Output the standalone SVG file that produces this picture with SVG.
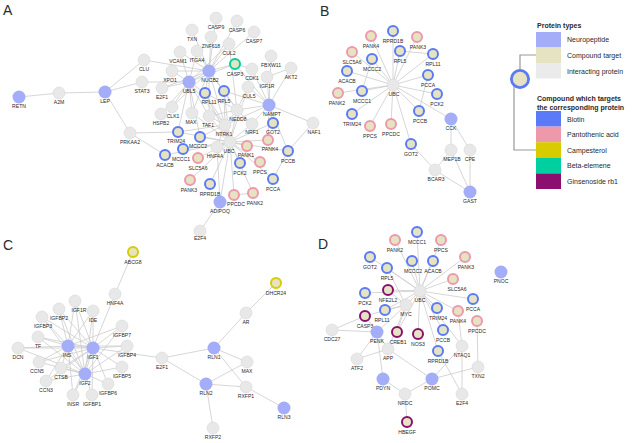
<svg xmlns="http://www.w3.org/2000/svg" width="636" height="443" viewBox="0 0 636 443">
<style>
.e{stroke:#cbcbcb;stroke-width:0.8;fill:none}
.g{fill:#e8e8e8;stroke:#d2d2d2;stroke-width:0.5}
.np{fill:#a3adf8}
.t{fill:#e6e3c3;stroke-width:2}
.bi{stroke:#5a7af7}.pa{stroke:#ee98ac}.ca{stroke:#d8cc00}.be{stroke:#00cf9f}.gi{stroke:#8a0f6e}
text{font-family:"Liberation Sans",Arial,sans-serif;fill:#2a2a2a}
.l{font-size:5.1px;text-anchor:middle}
.p{font-size:14px}
.lg{font-size:7px}
.h{font-size:7px;font-weight:bold}
</style>
<rect width="636" height="443" fill="#fff"/>
<g id="connectors">
<!-- Panel A -->
<path class="e" d="M19 97L59 93M59 93L105 92M105 92L144 60M105 92L142 82M105 92L130 133M144 60L209 71M142 82L189 82M130 133L178 132M130 133L165 155"/>
<path class="e" d="M209 71L216 18M209 71L237 21M209 71L192 30M209 71L211 37M209 71L254 32M209 71L229 44M209 71L180 52M209 71L197 51M209 71L235 64M209 71L172 71M209 71L189 82M209 71L205 93M209 71L224 91M209 71L162 88M209 71L225 125M209 71L237 110M209 71L209 116M209 71L192 113M209 71L172 107"/>
<path class="e" d="M189 82L172 71M189 82L162 88M189 82L172 107M189 82L161 114M189 82L178 132M189 82L200 137M189 82L205 93M189 82L192 113M189 82L209 116M189 82L225 125M189 82L180 52M189 82L197 51M189 82L229 44M189 82L235 64"/>
<path class="e" d="M269 105L271 56M269 105L291 68M269 105L267 77M269 105L252 69M269 105L248 87M269 105L237 110M269 105L252 124M269 105L273 123M269 105L313 123M269 105L224 91M269 105L235 64M269 105L225 125M269 105L288 151M269 105L268 140"/>
<path class="e" d="M230 142L225 125M230 142L237 110M230 142L200 137M230 142L183 149M230 142L198 158M230 142L240 163M230 142L260 162M230 142L247 146M230 142L190 180M230 142L210 184M230 142L234 195M230 142L253 193M230 142L273 179M230 142L273 123M230 142L178 132M230 142L224 91M230 142L205 93M230 142L217 147M230 142L165 155M230 142L288 151M230 142L268 140M230 142L248 87M230 142L209 116M230 142L192 113M230 142L252 124"/>
<path class="e" d="M225 125L205 93M225 125L224 91M225 125L209 116M225 125L237 110M225 125L217 147M225 125L200 137M225 125L178 132M237 110L229 44M237 110L248 87M237 110L205 93M237 110L224 91M237 110L209 116M237 110L252 124M220 202L200 231M220 202L217 147M220 202L230 142M313 123L288 151M291 68L267 77M252 69L235 64M273 179L288 151M253 193L234 195"/>
<!-- Panel B -->
<path class="e" d="M393 85L371 36M393 85L393 31M393 85L417 37M393 85L352 52M393 85L372 59M393 85L400 51M393 85L433 54M393 85L347 71M393 85L428 75M393 85L338 93M393 85L362 91M393 85L437 94M393 85L352 114M393 85L370 126M393 85L391 124M393 85L419 111M393 85L411 144M393 85L451 119M411 144L435 170M435 170L470 192M435 170L451 150M451 119L451 150M451 119L470 150M470 150L470 192M451 150L470 192M400 51L433 54M372 59L362 91M419 111L428 75"/>
<!-- Panel C -->
<path class="e" d="M133 252L115 294M115 294L93 348M162 358L93 348M162 358L214 348M162 358L206 384M214 348L246 313M246 313L276 283M214 348L247 362M214 348L246 387M206 384L247 362M206 384L246 387M206 384L213 428M246 387L284 408"/>
<path class="e" d="M68 346L75 301M68 346L93 311M68 346L59 309M68 346L42 317M68 346L38 337M68 346L18 348M68 346L39 362M68 346L61 368M68 346L73 395M68 346L122 326M68 346L127 346M68 346L93 348M68 346L85 374M68 346L46 381"/>
<path class="e" d="M93 348L75 301M93 348L93 311M93 348L59 309M93 348L42 317M93 348L122 326M93 348L127 346M93 348L122 367M93 348L108 384M93 348L92 395M93 348L73 395M93 348L38 337M93 348L18 348M93 348L39 362M93 348L46 381M93 348L61 368M93 348L85 374"/>
<path class="e" d="M85 374L75 301M85 374L59 309M85 374L42 317M85 374L122 326M85 374L127 346M85 374L122 367M85 374L108 384M85 374L92 395M85 374L73 395M85 374L46 381M85 374L39 362M85 374L61 368M85 374L18 348M85 374L38 337M85 374L93 311"/>
<!-- Panel D -->
<path class="e" d="M420 291L417 232M420 291L441 240M420 291L395 240M420 291L465 257M420 291L370 257M420 291L412 261M420 291L433 261M420 291L387 268M420 291L453 279M420 291L388 290M420 291L473 299M420 291L406 305M420 291L385 310M420 291L437 308M420 291L458 311M420 291L443 330M420 291L438 351M420 291L462 346M420 291L397 332M420 291L418 334M420 291L365 293"/>
<path class="e" d="M406 305L388 290M406 305L385 310M406 305L387 268M406 305L397 332M406 305L377 332M406 305L388 349M406 305L365 316M377 332L332 330M377 332L365 316M377 332L357 359M377 332L388 349M377 332L383 379M332 330L365 316M388 349L432 379M388 349L357 359M383 379L405 394M405 394L407 422M405 394L432 379M432 379L478 367M432 379L462 346M438 351L462 394M462 346L458 311M462 346L462 394M478 367L477 321"/>
</g>
<!-- Panel letters -->
<text class="p" x="3" y="15">A</text>
<text class="p" x="320" y="16">B</text>
<text class="p" x="3" y="250">C</text>
<text class="p" x="318" y="249">D</text>
<!-- Panel A nodes -->
<g id="A-RETN"><circle class="np" cx="19" cy="97" r="6.5"/><text class="l" x="19" y="108">RETN</text></g>
<g id="A-A2M"><circle class="g" cx="59" cy="93" r="6"/><text class="l" x="59" y="104">A2M</text></g>
<g id="A-LEP"><circle class="np" cx="105" cy="92" r="6.5"/><text class="l" x="105" y="103">LEP</text></g>
<g id="A-CLU"><circle class="g" cx="144" cy="60" r="6"/><text class="l" x="144" y="71">CLU</text></g>
<g id="A-STAT3"><circle class="g" cx="142" cy="82" r="6"/><text class="l" x="142" y="93">STAT3</text></g>
<g id="A-E2F1"><circle class="g" cx="162" cy="88" r="6"/><text class="l" x="162" y="99">E2F1</text></g>
<g id="A-PRKAA2"><circle class="g" cx="130" cy="133" r="6"/><text class="l" x="130" y="144">PRKAA2</text></g>
<g id="A-CASP9"><circle class="g" cx="216" cy="18" r="6"/><text class="l" x="216" y="29">CASP9</text></g>
<g id="A-CASP6"><circle class="g" cx="237" cy="21" r="6"/><text class="l" x="237" y="32">CASP6</text></g>
<g id="A-TXN"><circle class="g" cx="192" cy="30" r="6"/><text class="l" x="192" y="41">TXN</text></g>
<g id="A-ZNF618"><circle class="g" cx="211" cy="37" r="6"/><text class="l" x="211" y="48">ZNF618</text></g>
<g id="A-CASP7"><circle class="g" cx="254" cy="32" r="6"/><text class="l" x="254" y="43">CASP7</text></g>
<g id="A-CUL2"><circle class="g" cx="229" cy="44" r="6"/><text class="l" x="229" y="55">CUL2</text></g>
<g id="A-VCAM1"><circle class="g" cx="180" cy="52" r="6"/><text class="l" x="178" y="63">VCAM1</text></g>
<g id="A-ITGA4"><circle class="g" cx="197" cy="51" r="6"/><text class="l" x="197" y="62">ITGA4</text></g>
<g id="A-CASP3"><circle class="t be" cx="235" cy="64" r="5"/><text class="l" x="235" y="76">CASP3</text></g>
<g id="A-FBXW11"><circle class="g" cx="271" cy="56" r="6"/><text class="l" x="271" y="67">FBXW11</text></g>
<g id="A-CDK1"><circle class="g" cx="252" cy="69" r="6"/><text class="l" x="252" y="80">CDK1</text></g>
<g id="A-AKT2"><circle class="g" cx="291" cy="68" r="6"/><text class="l" x="291" y="79">AKT2</text></g>
<g id="A-IGF1R"><circle class="g" cx="267" cy="77" r="6"/><text class="l" x="267" y="88">IGF1R</text></g>
<g id="A-NUCB2"><circle class="np" cx="209" cy="71" r="6.5"/><text class="l" x="210" y="82">NUCB2</text></g>
<g id="A-XPO1"><circle class="g" cx="172" cy="71" r="6"/><text class="l" x="170" y="82">XPO1</text></g>
<g id="A-UBL5"><circle class="np" cx="189" cy="82" r="6.5"/><text class="l" x="189" y="93">UBL5</text></g>
<g id="A-CUL5"><circle class="g" cx="248" cy="87" r="6"/><text class="l" x="249" y="98">CUL5</text></g>
<g id="A-RPL11"><circle class="t bi" cx="205" cy="93" r="5"/><text class="l" x="209" y="104">RPL11</text></g>
<g id="A-RPL5"><circle class="t bi" cx="224" cy="91" r="5"/><text class="l" x="224" y="103">RPL5</text></g>
<g id="A-CLK1"><circle class="g" cx="172" cy="107" r="6"/><text class="l" x="173" y="118">CLK1</text></g>
<g id="A-HSPB2"><circle class="g" cx="161" cy="114" r="6"/><text class="l" x="161" y="125">HSPB2</text></g>
<g id="A-MAX"><circle class="g" cx="192" cy="113" r="6"/><text class="l" x="191" y="124">MAX</text></g>
<g id="A-TAF1"><circle class="g" cx="209" cy="116" r="6"/><text class="l" x="208" y="127">TAF1</text></g>
<g id="A-NEDD8"><circle class="g" cx="237" cy="110" r="6"/><text class="l" x="238" y="121">NEDD8</text></g>
<g id="A-NAMPT"><circle class="np" cx="269" cy="105" r="6.5"/><text class="l" x="272" y="116">NAMPT</text></g>
<g id="A-NRF1"><circle class="g" cx="252" cy="124" r="6"/><text class="l" x="252" y="134">NRF1</text></g>
<g id="A-GOT2"><circle class="t bi" cx="273" cy="123" r="5"/><text class="l" x="273" y="134">GOT2</text></g>
<g id="A-NTRK1"><circle class="g" cx="225" cy="125" r="6"/><text class="l" x="224" y="136">NTRK1</text></g>
<g id="A-TRIM24"><circle class="t bi" cx="178" cy="132" r="5"/><text class="l" x="176" y="143">TRIM24</text></g>
<g id="A-MCCC2"><circle class="t bi" cx="200" cy="137" r="5"/><text class="l" x="198" y="148">MCCC2</text></g>
<g id="A-UBC"><circle class="g" cx="230" cy="142" r="6"/><text class="l" x="229" y="153">UBC</text></g>
<g id="A-PANK1"><circle class="t pa" cx="247" cy="146" r="5"/><text class="l" x="246" y="157">PANK1</text></g>
<g id="A-PANK4"><circle class="t pa" cx="268" cy="140" r="5"/><text class="l" x="270" y="151">PANK4</text></g>
<g id="A-HNF4A"><circle class="g" cx="217" cy="147" r="6"/><text class="l" x="215" y="158">HNF4A</text></g>
<g id="A-MCCC1"><circle class="t bi" cx="183" cy="149" r="5"/><text class="l" x="181" y="161">MCCC1</text></g>
<g id="A-SLC5A6"><circle class="t pa" cx="198" cy="158" r="5"/><text class="l" x="198" y="170">SLC5A6</text></g>
<g id="A-ACACB"><circle class="t bi" cx="165" cy="155" r="5"/><text class="l" x="165" y="167">ACACB</text></g>
<g id="A-PCK2"><circle class="t bi" cx="240" cy="163" r="5"/><text class="l" x="240" y="175">PCK2</text></g>
<g id="A-PPCS"><circle class="t pa" cx="260" cy="162" r="5"/><text class="l" x="260" y="174">PPCS</text></g>
<g id="A-PCCB"><circle class="t bi" cx="288" cy="151" r="5"/><text class="l" x="288" y="163">PCCB</text></g>
<g id="A-PCCA"><circle class="t bi" cx="273" cy="179" r="5"/><text class="l" x="273" y="191">PCCA</text></g>
<g id="A-PANK3"><circle class="t pa" cx="190" cy="180" r="5"/><text class="l" x="189" y="192">PANK3</text></g>
<g id="A-RPRD1B"><circle class="t bi" cx="210" cy="184" r="5"/><text class="l" x="210" y="196">RPRD1B</text></g>
<g id="A-PPCDC"><circle class="t pa" cx="234" cy="195" r="5"/><text class="l" x="236" y="206">PPCDC</text></g>
<g id="A-PANK2"><circle class="t pa" cx="253" cy="193" r="5"/><text class="l" x="255" y="205">PANK2</text></g>
<g id="A-ADIPOQ"><circle class="np" cx="220" cy="202" r="6.5"/><text class="l" x="220" y="213">ADIPOQ</text></g>
<g id="A-E2F4"><circle class="g" cx="200" cy="231" r="6"/><text class="l" x="200" y="240">E2F4</text></g>
<g id="A-NAF1"><circle class="g" cx="313" cy="123" r="6"/><text class="l" x="314" y="134">NAF1</text></g>
<!-- Panel B nodes -->
<g id="B-PANK4"><circle class="t pa" cx="371" cy="36" r="5"/><text class="l" x="371" y="48">PANK4</text></g>
<g id="B-RPRD1B"><circle class="t bi" cx="393" cy="31" r="5"/><text class="l" x="393" y="43">RPRD1B</text></g>
<g id="B-PANK3"><circle class="t pa" cx="417" cy="37" r="5"/><text class="l" x="418" y="49">PANK3</text></g>
<g id="B-SLC5A6"><circle class="t pa" cx="352" cy="52" r="5"/><text class="l" x="352" y="64">SLC5A6</text></g>
<g id="B-MCCC2"><circle class="t bi" cx="372" cy="59" r="5"/><text class="l" x="372" y="71">MCCC2</text></g>
<g id="B-RPL5"><circle class="t bi" cx="400" cy="51" r="5"/><text class="l" x="400" y="63">RPL5</text></g>
<g id="B-RPL11"><circle class="t bi" cx="433" cy="54" r="5"/><text class="l" x="433" y="66">RPL11</text></g>
<g id="B-ACACB"><circle class="t bi" cx="347" cy="71" r="5"/><text class="l" x="347" y="83">ACACB</text></g>
<g id="B-PCCA"><circle class="t bi" cx="428" cy="75" r="5"/><text class="l" x="428" y="87">PCCA</text></g>
<g id="B-UBC"><circle class="g" cx="393" cy="85" r="6"/><text class="l" x="394" y="96">UBC</text></g>
<g id="B-PANK2"><circle class="t pa" cx="338" cy="93" r="5"/><text class="l" x="337" y="105">PANK2</text></g>
<g id="B-MCCC1"><circle class="t bi" cx="362" cy="91" r="5"/><text class="l" x="362" y="103">MCCC1</text></g>
<g id="B-PCK2"><circle class="t bi" cx="437" cy="94" r="5"/><text class="l" x="437" y="106">PCK2</text></g>
<g id="B-TRIM24"><circle class="t bi" cx="352" cy="114" r="5"/><text class="l" x="352" y="126">TRIM24</text></g>
<g id="B-PPCS"><circle class="t pa" cx="370" cy="126" r="5"/><text class="l" x="370" y="138">PPCS</text></g>
<g id="B-PPCDC"><circle class="t pa" cx="391" cy="124" r="5"/><text class="l" x="391" y="136">PPCDC</text></g>
<g id="B-PCCB"><circle class="t bi" cx="419" cy="111" r="5"/><text class="l" x="420" y="123">PCCB</text></g>
<g id="B-GOT2"><circle class="t bi" cx="411" cy="144" r="5"/><text class="l" x="411" y="156">GOT2</text></g>
<g id="B-CCK"><circle class="np" cx="451" cy="119" r="6.5"/><text class="l" x="451" y="130">CCK</text></g>
<g id="B-MEP1B"><circle class="g" cx="451" cy="150" r="6"/><text class="l" x="452" y="161">MEP1B</text></g>
<g id="B-CPE"><circle class="g" cx="470" cy="150" r="6"/><text class="l" x="470" y="161">CPE</text></g>
<g id="B-BCAR3"><circle class="g" cx="435" cy="170" r="6"/><text class="l" x="436" y="181">BCAR3</text></g>
<g id="B-GAST"><circle class="np" cx="470" cy="192" r="6.5"/><text class="l" x="470" y="203">GAST</text></g>
<!-- Legend -->
<g id="legend">
<path d="M520 79V55H536M514 85V150H536" fill="none" stroke="#999" stroke-width="1.2"/>
<circle cx="520" cy="79" r="8.6" fill="#e6e3c3" stroke="#5a7af7" stroke-width="2.8"/>
<text class="h" x="537" y="28">Protein types</text>
<rect x="536" y="32" width="25" height="15.5" fill="#a3adf8"/>
<rect x="536" y="47.5" width="25" height="15.5" fill="#e6e3c3"/>
<rect x="536" y="63" width="25" height="15.5" fill="#ebebeb"/>
<text class="lg" x="567" y="42">Neuropeptide</text>
<text class="lg" x="567" y="58">Compound target</text>
<text class="lg" x="567" y="73.5">Interacting protein</text>
<text class="h" x="537" y="101">Compound which targets</text>
<text class="h" x="537" y="109.5">the corresponding protein</text>
<rect x="536" y="111" width="25" height="15.6" fill="#5a7af7"/>
<rect x="536" y="126.6" width="25" height="15.6" fill="#ee98ac"/>
<rect x="536" y="142.2" width="25" height="15.6" fill="#d8cc00"/>
<rect x="536" y="157.8" width="25" height="15.6" fill="#00cf9f"/>
<rect x="536" y="173.4" width="25" height="15.6" fill="#8a0f6e"/>
<text class="lg" x="567" y="121.5">Biotin</text>
<text class="lg" x="567" y="137">Pantothenic acid</text>
<text class="lg" x="567" y="152.5">Campesterol</text>
<text class="lg" x="567" y="168">Beta-elemene</text>
<text class="lg" x="567" y="184">Ginsenoside rb1</text>
</g>
<!-- Panel C nodes -->
<g id="C-ABCG8"><circle class="t ca" cx="133" cy="252" r="5"/><text class="l" x="133" y="264">ABCG8</text></g>
<g id="C-HNF4A"><circle class="g" cx="115" cy="294" r="6"/><text class="l" x="115" y="305">HNF4A</text></g>
<g id="C-IGF1R"><circle class="g" cx="75" cy="301" r="6"/><text class="l" x="79" y="312">IGF1R</text></g>
<g id="C-IDE"><circle class="g" cx="93" cy="311" r="6"/><text class="l" x="93" y="322">IDE</text></g>
<g id="C-IGFBP2"><circle class="g" cx="59" cy="309" r="6"/><text class="l" x="59" y="320">IGFBP2</text></g>
<g id="C-IGFBP3"><circle class="g" cx="42" cy="317" r="6"/><text class="l" x="43" y="328">IGFBP3</text></g>
<g id="C-IGFBP7"><circle class="g" cx="122" cy="326" r="6"/><text class="l" x="122" y="337">IGFBP7</text></g>
<g id="C-TF"><circle class="g" cx="38" cy="337" r="6"/><text class="l" x="38" y="348">TF</text></g>
<g id="C-IGFBP4"><circle class="g" cx="127" cy="346" r="6"/><text class="l" x="127" y="357">IGFBP4</text></g>
<g id="C-DCN"><circle class="g" cx="18" cy="348" r="6"/><text class="l" x="18" y="359">DCN</text></g>
<g id="C-CCN5"><circle class="g" cx="39" cy="362" r="6"/><text class="l" x="37" y="373">CCN5</text></g>
<g id="C-CTSB"><circle class="g" cx="61" cy="368" r="6"/><text class="l" x="61" y="379">CTSB</text></g>
<g id="C-IGFBP5"><circle class="g" cx="122" cy="367" r="6"/><text class="l" x="122" y="378">IGFBP5</text></g>
<g id="C-CCN3"><circle class="g" cx="46" cy="381" r="6"/><text class="l" x="46" y="392">CCN3</text></g>
<g id="C-IGFBP6"><circle class="g" cx="108" cy="384" r="6"/><text class="l" x="108" y="395">IGFBP6</text></g>
<g id="C-INSR"><circle class="g" cx="73" cy="395" r="6"/><text class="l" x="73" y="406">INSR</text></g>
<g id="C-IGFBP1"><circle class="g" cx="92" cy="395" r="6"/><text class="l" x="92" y="406">IGFBP1</text></g>
<g id="C-INS"><circle class="np" cx="68" cy="346" r="6.5"/><text class="l" x="67" y="357">INS</text></g>
<g id="C-IGF1"><circle class="np" cx="93" cy="348" r="6.5"/><text class="l" x="93" y="359">IGF1</text></g>
<g id="C-IGF2"><circle class="np" cx="85" cy="374" r="6.5"/><text class="l" x="85" y="385">IGF2</text></g>
<g id="C-E2F1"><circle class="g" cx="162" cy="358" r="6"/><text class="l" x="162" y="369">E2F1</text></g>
<g id="C-DHCR24"><circle class="t ca" cx="276" cy="283" r="5"/><text class="l" x="276" y="295">DHCR24</text></g>
<g id="C-AR"><circle class="g" cx="246" cy="313" r="6"/><text class="l" x="246" y="324">AR</text></g>
<g id="C-RLN1"><circle class="np" cx="214" cy="348" r="6.5"/><text class="l" x="214" y="359">RLN1</text></g>
<g id="C-MAX"><circle class="g" cx="247" cy="362" r="6"/><text class="l" x="247" y="373">MAX</text></g>
<g id="C-RLN2"><circle class="np" cx="206" cy="384" r="6.5"/><text class="l" x="206" y="395">RLN2</text></g>
<g id="C-RXFP1"><circle class="g" cx="246" cy="387" r="6"/><text class="l" x="246" y="398">RXFP1</text></g>
<g id="C-RLN3"><circle class="np" cx="284" cy="408" r="6.5"/><text class="l" x="284" y="419">RLN3</text></g>
<g id="C-RXFP2"><circle class="g" cx="213" cy="428" r="6"/><text class="l" x="213" y="439">RXFP2</text></g>
<!-- Panel D nodes -->
<g id="D-MCCC1"><circle class="t bi" cx="417" cy="232" r="5"/><text class="l" x="417" y="244">MCCC1</text></g>
<g id="D-PPCS"><circle class="t pa" cx="441" cy="240" r="5"/><text class="l" x="441" y="252">PPCS</text></g>
<g id="D-PANK2"><circle class="t pa" cx="395" cy="240" r="5"/><text class="l" x="395" y="252">PANK2</text></g>
<g id="D-PANK3"><circle class="t pa" cx="465" cy="257" r="5"/><text class="l" x="466" y="269">PANK3</text></g>
<g id="D-GOT2"><circle class="t bi" cx="370" cy="257" r="5"/><text class="l" x="370" y="269">GOT2</text></g>
<g id="D-MCCC2"><circle class="t bi" cx="412" cy="261" r="5"/><text class="l" x="413" y="273">MCCC2</text></g>
<g id="D-ACACB"><circle class="t bi" cx="433" cy="261" r="5"/><text class="l" x="433" y="273">ACACB</text></g>
<g id="D-RPL5"><circle class="t bi" cx="387" cy="268" r="5"/><text class="l" x="387" y="280">RPL5</text></g>
<g id="D-SLC5A6"><circle class="t pa" cx="453" cy="279" r="5"/><text class="l" x="457" y="291">SLC5A6</text></g>
<g id="D-UBC"><circle class="g" cx="420" cy="291" r="6"/><text class="l" x="420" y="302">UBC</text></g>
<g id="D-PCK2"><circle class="t bi" cx="365" cy="293" r="5"/><text class="l" x="365" y="305">PCK2</text></g>
<g id="D-NFE2L2"><circle class="t gi" cx="388" cy="290" r="5"/><text class="l" x="388" y="302">NFE2L2</text></g>
<g id="D-PCCA"><circle class="t bi" cx="473" cy="299" r="5"/><text class="l" x="473" y="311">PCCA</text></g>
<g id="D-MYC"><circle class="g" cx="406" cy="305" r="6"/><text class="l" x="406" y="316">MYC</text></g>
<g id="D-RPL11"><circle class="t bi" cx="385" cy="310" r="5"/><text class="l" x="382" y="322">RPL11</text></g>
<g id="D-TRIM24"><circle class="t bi" cx="437" cy="308" r="5"/><text class="l" x="438" y="320">TRIM24</text></g>
<g id="D-PANK4"><circle class="t pa" cx="458" cy="311" r="5"/><text class="l" x="458" y="323">PANK4</text></g>
<g id="D-PPCDC"><circle class="t pa" cx="477" cy="321" r="5"/><text class="l" x="477" y="333">PPCDC</text></g>
<g id="D-CASP3"><circle class="t gi" cx="365" cy="316" r="5"/><text class="l" x="365" y="328">CASP3</text></g>
<g id="D-CDC27"><circle class="g" cx="332" cy="330" r="6"/><text class="l" x="332" y="341">CDC27</text></g>
<g id="D-PENK"><circle class="np" cx="377" cy="332" r="6.5"/><text class="l" x="377" y="343">PENK</text></g>
<g id="D-CREB1"><circle class="t gi" cx="397" cy="332" r="5"/><text class="l" x="398" y="344">CREB1</text></g>
<g id="D-NOS3"><circle class="t gi" cx="418" cy="334" r="5"/><text class="l" x="418" y="346">NOS3</text></g>
<g id="D-PCCB"><circle class="t bi" cx="443" cy="330" r="5"/><text class="l" x="443" y="342">PCCB</text></g>
<g id="D-APP"><circle class="g" cx="388" cy="349" r="6"/><text class="l" x="388" y="360">APP</text></g>
<g id="D-RPRD1B"><circle class="t bi" cx="438" cy="351" r="5"/><text class="l" x="438" y="363">RPRD1B</text></g>
<g id="D-NTAQ1"><circle class="g" cx="462" cy="346" r="6"/><text class="l" x="462" y="357">NTAQ1</text></g>
<g id="D-ATF2"><circle class="g" cx="357" cy="359" r="6"/><text class="l" x="357" y="370">ATF2</text></g>
<g id="D-TXN2"><circle class="g" cx="478" cy="367" r="6"/><text class="l" x="478" y="378">TXN2</text></g>
<g id="D-PDYN"><circle class="np" cx="383" cy="379" r="6.5"/><text class="l" x="383" y="390">PDYN</text></g>
<g id="D-POMC"><circle class="np" cx="432" cy="379" r="6.5"/><text class="l" x="432" y="390">POMC</text></g>
<g id="D-NRDC"><circle class="g" cx="405" cy="394" r="6"/><text class="l" x="405" y="405">NRDC</text></g>
<g id="D-E2F4"><circle class="g" cx="462" cy="394" r="6"/><text class="l" x="462" y="405">E2F4</text></g>
<g id="D-HBEGF"><circle class="t gi" cx="407" cy="422" r="5"/><text class="l" x="407" y="434">HBEGF</text></g>
<g id="D-PNOC"><circle class="np" cx="501" cy="272" r="6.5"/><text class="l" x="501" y="283">PNOC</text></g>
</svg>
